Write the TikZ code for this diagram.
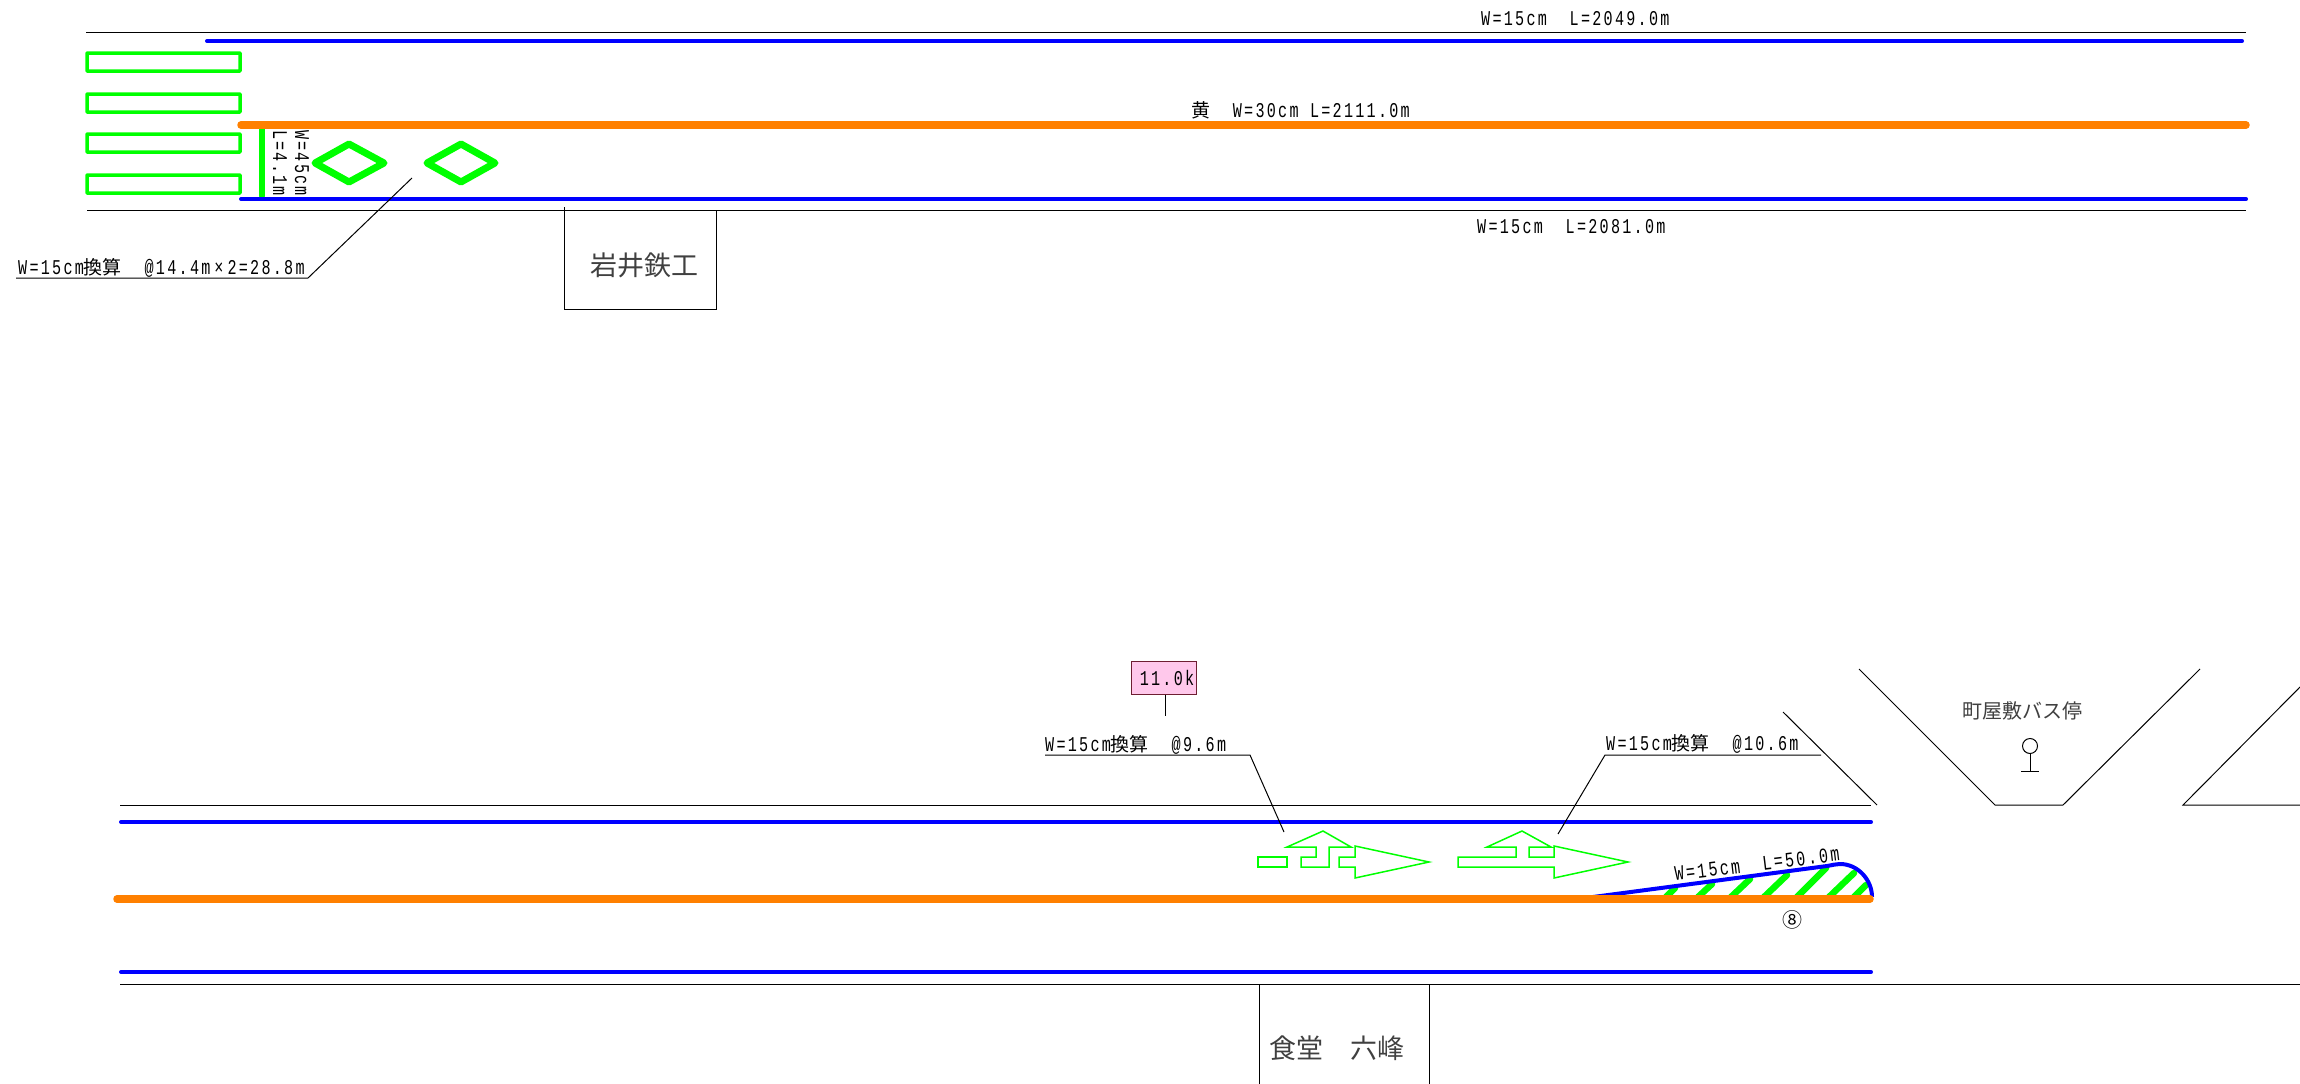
\documentclass[tikz,border=0pt]{standalone}
\usepackage{fontspec}
\usetikzlibrary{calc}
\setmainfont{Liberation Mono}
\newfontfamily\cadfont[FakeStretch=0.72,LetterSpace=10.8]{Liberation Mono}
\newfontfamily\kanjifont{Noto Sans CJK JP}
\definecolor{markgreen}{RGB}{0,255,0}
\definecolor{lineblue}{RGB}{0,0,255}
\definecolor{lineorange}{RGB}{255,128,0}
\definecolor{tagpink}{RGB}{255,200,235}
\definecolor{tagborder}{RGB}{110,30,50}
\newcommand{\kj}[1]{{\kanjifont\fontsize{19}{19}\selectfont #1}}
\tikzset{
    lbl/.style={inner sep=0pt, font=\cadfont\fontsize{21}{21}\selectfont},
    bigtext/.style={inner sep=0pt, text=black!75, font=\kanjifont\fontsize{27}{27}\selectfont},
    thinline/.style={line width=1pt, black},
    blueline/.style={line width=4pt, lineblue, line cap=round},
    orangeline/.style={line width=7.5pt, lineorange, line cap=round},
    greenbox/.style={line width=3.5pt, markgreen, rounded corners=0.5pt},
    greendiamond/.style={line width=7pt, markgreen, line join=round},
    greenarrow/.style={line width=1.5pt, markgreen},
    hatch/.style={line width=6.5pt, markgreen, line cap=round},
}

\begin{document}
\begin{tikzpicture}[x=1pt, y=-1pt]

    \useasboundingbox (0,0) rectangle (2300,1084);

    % upper road
    \draw[thinline] (86,32) -- (2246,32);
    \draw[blueline] (207,41) -- (2242,41);
    \draw[thinline] (87,210) -- (2246,210);
    \foreach \y in {53,94,134,175} {
        \draw[greenbox] (87,\y) rectangle (240,\y+18);
    }
    \draw[line width=6pt, markgreen, line cap=round] (262,125) -- (262,196);
    \draw[blueline] (241,199) -- (2246,199);
    \draw[orangeline] (241,125) -- (2246,125);
    \draw[greendiamond] (349,144) -- (384,163) -- (349,182) -- (315,163) -- cycle;
    \draw[greendiamond] (461,144) -- (495,163) -- (461,182) -- (427,163) -- cycle;

    \node[lbl, rotate=-90] (stopW) at (302,163) {W=45cm};
    \node[lbl, rotate=-90] (stopL) at (280,163) {L=4.1m};

    \node[lbl, anchor=west] (topA) at (1481,19) {W=15cm~~L=2049.0m};
    \node[lbl, anchor=west] (topB) at (1191,110) {\kj{黄}~~W=30cm~L=2111.0m};
    \node[lbl, anchor=west] (topC) at (1477,227) {W=15cm~~L=2081.0m};

    \node[lbl, anchor=west] (noteA) at (18,268) {W=15cm\kj{換算}~~@14.4m\hspace{4pt}×\hspace{4pt}2=28.8m};
    \coordinate (noteAstart) at (16,278);
    \coordinate (noteAknee) at (308,278);
    \coordinate (noteAtip) at (412,178);
    \draw[thinline] (noteAstart) -- (noteAknee) -- (noteAtip);

    \draw[thinline] (564,207) -- (564,309) -- (716,309) -- (716,210);
    \node[bigtext] (iwai) at (644,265) {岩井鉄工};

    % lower road
    \draw[thinline] (120,805) -- (1871,805);
    \draw[thinline] (1783,712) -- (1877,805);
    \draw[thinline] (1859,669) -- (1995,805) -- (2063,805) -- (2200,669);
    \draw[thinline] (2300,687) -- (2183,805) -- (2300,805);
    \draw[thinline] (120,984) -- (2300,984);
    \draw[blueline] (121,822) -- (1871,822);
    \draw[blueline] (121,972) -- (1871,972);

    % zebra
    \draw[hatch] (1666,897) -- (1675,888);
    \draw[hatch] (1698,897) -- (1712,884);
    \draw[hatch] (1731,897) -- (1750,879);
    \draw[hatch] (1764,897) -- (1787,875);
    \draw[hatch] (1797,897) -- (1826,868);
    \draw[hatch] (1829,897) -- (1854,873);
    \draw[hatch] (1854,897) -- (1866,885);
    \draw[line width=4pt, lineblue] (1593,897) -- (1827,866) .. controls (1833,865) and (1836,864) .. (1840,864) .. controls (1858,864) and (1872,880) .. (1872,897);
    \draw[orangeline] (117,899) -- (1870,899);
    \node[lbl, rotate=7] (islandlbl) at (1757,864) {W=15cm~~L=50.0m};
    \node[inner sep=0pt, font=\kanjifont\fontsize{20}{20}\selectfont] (eight) at (1792,920) {⑧};

    % arrows
    \draw[greenarrow] (1258,857) rectangle (1287,867);
    \draw[greenarrow] (1287,847) -- (1323,831) -- (1351,847) -- (1329,847) -- (1329,867) -- (1301,867) -- (1301,857) -- (1316,857) -- (1316,847) -- cycle;
    \draw[greenarrow] (1339,857) -- (1355,857) -- (1355,846) -- (1429,862) -- (1355,878) -- (1355,867) -- (1339,867) -- cycle;
    \draw[greenarrow] (1458,857) -- (1516,857) -- (1516,847) -- (1487,847) -- (1522,831) -- (1551,847) -- (1529,847) -- (1529,857) -- (1554,857) -- (1554,846) -- (1628,862) -- (1554,878) -- (1554,867) -- (1458,867) -- cycle;

    % labels
    \node[draw=tagborder, fill=tagpink, line width=1pt, inner sep=0pt, minimum width=65pt, minimum height=33pt, lbl] (km) at (1163.5,677.5) {\hspace*{7pt}11.0k};
    \coordinate (kmfoot) at (1165,716);
    \draw[thinline] (km.south -| kmfoot) -- (kmfoot);

    \node[lbl, anchor=west] (noteB) at (1045,745) {W=15cm\kj{換算}~~@9.6m};
    \coordinate (noteBstart) at (1045,755);
    \coordinate (noteBknee) at (1250,755);
    \coordinate (noteBtip) at (1284,832);
    \draw[thinline] (noteBstart) -- (noteBknee) -- (noteBtip);

    \node[lbl, anchor=west] (noteC) at (1606,744) {W=15cm\kj{換算}~~@10.6m};
    \coordinate (noteCstart) at (1821,755);
    \coordinate (noteCknee) at (1605,755);
    \coordinate (noteCtip) at (1558,834);
    \draw[thinline] (noteCstart) -- (noteCknee) -- (noteCtip);

    % bus stop
    \node[inner sep=0pt, text=black!75, font=\kanjifont\fontsize{20}{20}\selectfont] (busname) at (2022,711) {町屋敷バス停};
    \node[draw, circle, thinline, minimum size=15pt, inner sep=0pt] (busring) at (2030,746) {};
    \coordinate (busfoot) at (2030,771);
    \coordinate (busbaseL) at (2021,771);
    \coordinate (busbaseR) at (2039,771);
    \draw[thinline] (busring) -- (busfoot);
    \draw[thinline] (busbaseL) -- (busbaseR);

    % shop
    \draw[thinline] (1259,984) -- (1259,1084);
    \draw[thinline] (1429,984) -- (1429,1084);
    \node[bigtext] (shop) at (1337,1048) {食堂　六峰};

\end{tikzpicture}
\end{document}
